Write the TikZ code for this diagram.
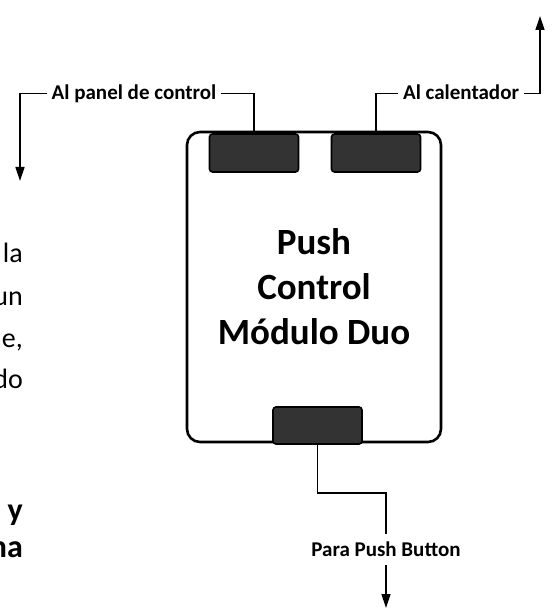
\documentclass[tikz,border=0pt]{standalone}
\usepackage{fontspec}
\setmainfont{Carlito}
\usetikzlibrary{arrows.meta}

\begin{document}
\begin{tikzpicture}[
    x=1pt,y=-1pt,
    module/.style={draw,line width=2.6pt,rounded corners=13pt,
      minimum width=254pt,minimum height=310pt,inner sep=0pt,align=center,
      font=\bfseries\fontsize{37}{45}\selectfont},
    port/.style={draw,line width=1.6pt,fill=black!80,rounded corners=3pt,
      inner sep=0pt,minimum width=89pt,minimum height=38pt},
    wire/.style={line width=1.4pt},
    lead/.style={wire,-{Triangle[length=14pt,width=9pt]}},
    tag/.style={anchor=base,font=\bfseries\fontsize{21}{24}\selectfont,
      text height=13pt,text depth=0pt,inner xsep=5pt,inner ysep=9pt},
    note/.style={anchor=base east,inner sep=0pt,font=\fontsize{28}{34}\selectfont}
  ]
  \useasboundingbox (0,0) rectangle (551,612);

  % module body and its three sockets
  \node[module] (duo) at (314,287) {Push\\Control\\Módulo Duo};
  \node[port] (panelport) at (254,153) {};
  \node[port] (heatport) at (376,153) {};
  \node[port,minimum height=37pt] (buttonport) at (317.5,425.5) {};

  % wire labels
  \node[tag] (panel) at (134,100) {Al panel de control};
  \node[tag] (heater) at (461,100) {Al calentador};
  \node[tag] (button) at (386,556) {Para Push Button};

  \coordinate (panelend) at (20,181);
  \coordinate (heaterend) at (540,16);
  \coordinate (buttonbend) at (386,493);
  \coordinate (buttonend) at (386,608);

  \draw[wire] (panelport.north) |- (panel.east);
  \draw[lead] (panel.west) -| (panelend);
  \draw[wire] (heatport.north) |- (heater.west);
  \draw[lead] (heater.east) -| (heaterend);
  \draw[wire] (buttonport.south) |- (buttonbend) -- (button.north);
  \draw[lead] (button.south) -- (buttonend);

  % cut-off text at the left margin
  \node[note] (l1) at (23,262) {la};
  \node[note] (l2) at (23,305) {un};
  \node[note] (l3) at (23,347) {e,};
  \node[note] (l4) at (23,388) {do};
  \node[note,font=\bfseries\fontsize{32}{38}\selectfont] (b1) at (23,520) {y};
  \node[note,font=\bfseries\fontsize{32}{38}\selectfont] (b2) at (23,557) {na};
\end{tikzpicture}
\end{document}
